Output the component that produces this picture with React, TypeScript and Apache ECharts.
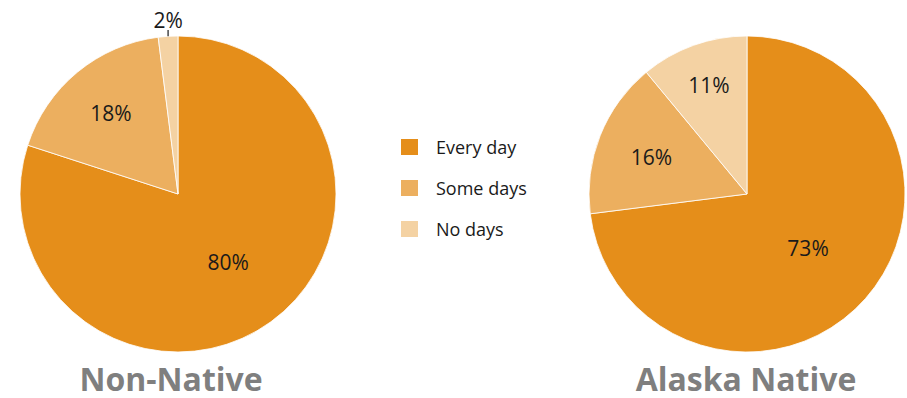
import React, { useEffect, useRef } from "react";
import * as echarts from "echarts";

const categories = ["Every day", "Some days", "No days"];
const nonNativeValues = [80, 18, 2];
const alaskaNativeValues = [73, 16, 11];
const pieTitles = ["Non-Native", "Alaska Native"];
const colors = ["#E58E1A", "#ECAF5F", "#F4D2A3"];

const centers: [number, number][] = [
  [178, 194],
  [747, 194],
];
const radius = 158;
const titleCenters = [171, 746];
// label radial factor per slice (fraction of radius)
const labelFactors = [
  [0.5, 0.66, 0],
  [0.48, 0.64, 0.72],
];

export default function App() {
  const ref = useRef<HTMLDivElement>(null);
  useEffect(() => {
    document.body.style.margin = "0";
    const chart = echarts.init(ref.current!, null, { renderer: "svg" });
    const font = "'Open Sans', 'Noto Sans', sans-serif";
    const makeSeries = (idx: number, values: number[]) => ({
      type: "pie",
      center: centers[idx],
      radius: radius,
      startAngle: 90,
      clockwise: true,
      label: {
        show: true,
        position: "inside",
        formatter: "{c}%",
        color: "#1a1a1a",
        fontSize: 21,
        fontFamily: font,
      },
      labelLine: { show: false },
      itemStyle: { borderColor: "#fff", borderWidth: 0.8 },
      emphasis: { disabled: true },
      labelLayout: (params: any) => {
        const d = params.dataIndex;
        const [cx, cy] = centers[idx];
        const r = params.labelRect;
        if (values[d] < 5) {
          let acc = 0;
          for (let k = 0; k < d; k++) acc += values[k];
          const total = values.reduce((a, b) => a + b, 0);
          const mid = ((acc + values[d] / 2) / total) * Math.PI * 2;
          const x = cx + Math.sin(mid) * radius;
          return { x: x, y: 30, align: "center", verticalAlign: "bottom" };
        }
        const lx = r.x + r.width / 2;
        const ly = r.y + r.height / 2;
        const f = labelFactors[idx][d] / 0.5;
        return { x: cx + (lx - cx) * f + 2, y: cy + (ly - cy) * f + 2, align: "center", verticalAlign: "middle" };
      },
      data: values.map((v, i) => {
        const d: any = { name: categories[i], value: v, itemStyle: { color: colors[i] } };
        if (v < 5) {
          d.label = { position: "outside", color: "#1a1a1a", fontSize: 21 };
          d.labelLine = {
            show: true,
            showAbove: true,
            length: 6,
            length2: 0,
            lineStyle: { color: "#1a1a1a", width: 1.2 },
          };
        }
        return d;
      }),
    });
    chart.setOption({
      animation: false,
      color: colors,
      title: pieTitles.map((t, i) => ({
        text: t,
        left: titleCenters[i],
        top: 360,
        padding: 0,
        textAlign: "center",
        textStyle: {
          color: "#7F7F7F",
          fontSize: 32,
          lineHeight: 36,
          fontWeight: "bold",
          fontFamily: font,
        },
      })),
      legend: {
        orient: "vertical",
        left: 399,
        top: 137,
        padding: 0,
        itemWidth: 19,
        itemHeight: 18,
        itemGap: 21,
        icon: "rect",
        data: categories,
        textStyle: { color: "#1a1a1a", fontSize: 18, lineHeight: 18, fontFamily: font, padding: [0, 0, 0, 12] },
      },
      series: [makeSeries(0, nonNativeValues), makeSeries(1, alaskaNativeValues)],
    });
    return () => chart.dispose();
  }, []);
  return <div ref={ref} style={{ width: 907, height: 398 }} />;
}
